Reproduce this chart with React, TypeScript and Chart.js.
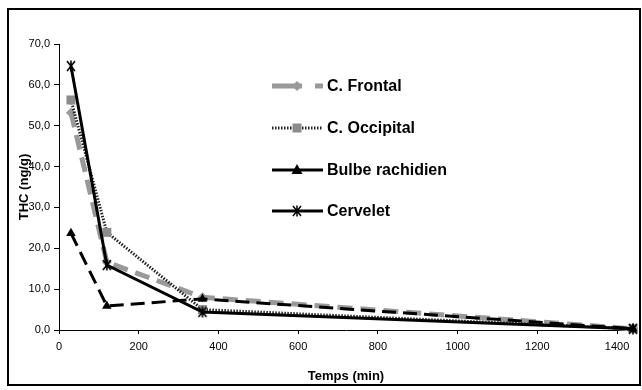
import React, { useEffect, useRef } from "react";
import { Chart, registerables } from "chart.js";

Chart.register(...registerables);

const timesMin = [30, 120, 360, 1440];
const seriesNames = ["C. Frontal", "C. Occipital", "Bulbe rachidien", "Cervelet"];
const frontal = [53.2, 16.6, 8.0, 0.3];
const occipital = [56.3, 23.9, 5.0, 0.3];
const bulbe = [23.7, 5.9, 7.6, 0.3];
const cervelet = [64.6, 15.9, 4.4, 0.3];
const xTickValues = [0, 200, 400, 600, 800, 1000, 1200, 1400];
const yTickValues = [0, 10, 20, 30, 40, 50, 60, 70];

const FONT = "'Liberation Sans', Arial, sans-serif";

const toPts = (vals: number[]) => vals.map((v, i) => ({ x: timesMin[i], y: v }));

function makeAsterisk(): HTMLCanvasElement {
  const c = document.createElement("canvas");
  c.width = 12;
  c.height = 12;
  const g = c.getContext("2d")!;
  g.strokeStyle = "#000";
  g.lineWidth = 1.6;
  g.beginPath();
  g.moveTo(2, 1); g.lineTo(10, 11);
  g.moveTo(10, 1); g.lineTo(2, 11);
  g.moveTo(6, 0.5); g.lineTo(6, 11.5);
  g.stroke();
  return c;
}

const legendPlugin = {
  id: "insideLegend",
  afterDraw(chart: any) {
    const ctx = chart.ctx as CanvasRenderingContext2D;
    const rows = [86, 128, 170, 211];
    const x1 = 272, x2 = 323, mx = 297, tx = 327;
    ctx.save();
    rows.forEach((y, i) => {
      ctx.setLineDash([]);
      if (i === 0) {
        ctx.strokeStyle = "#999999";
        ctx.lineWidth = 5;
        ctx.beginPath();
        ctx.moveTo(x1, y); ctx.lineTo(302, y);
        ctx.moveTo(315, y); ctx.lineTo(x2, y);
        ctx.stroke();
        ctx.fillStyle = "#999999";
        ctx.beginPath();
        ctx.moveTo(mx, y - 5); ctx.lineTo(mx + 5, y); ctx.lineTo(mx, y + 5); ctx.lineTo(mx - 5, y);
        ctx.closePath(); ctx.fill();
      } else if (i === 1) {
        ctx.strokeStyle = "#222";
        ctx.lineWidth = 3;
        ctx.setLineDash([1.5, 1.5]);
        ctx.beginPath(); ctx.moveTo(x1, y); ctx.lineTo(x2, y); ctx.stroke();
        ctx.setLineDash([]);
        ctx.fillStyle = "#8c8c8c";
        ctx.fillRect(mx - 4.5, y - 4.5, 9, 9);
      } else if (i === 2) {
        ctx.strokeStyle = "#000";
        ctx.lineWidth = 3;
        ctx.beginPath(); ctx.moveTo(x1, y); ctx.lineTo(x2, y); ctx.stroke();
        ctx.fillStyle = "#000";
        ctx.beginPath();
        ctx.moveTo(mx, y - 6); ctx.lineTo(mx + 5.5, y + 4); ctx.lineTo(mx - 5.5, y + 4);
        ctx.closePath(); ctx.fill();
      } else {
        ctx.strokeStyle = "#000";
        ctx.lineWidth = 3;
        ctx.beginPath(); ctx.moveTo(x1, y); ctx.lineTo(x2, y); ctx.stroke();
        ctx.lineWidth = 1.5;
        ctx.beginPath();
        ctx.moveTo(mx - 4, y - 5); ctx.lineTo(mx + 4, y + 5);
        ctx.moveTo(mx + 4, y - 5); ctx.lineTo(mx - 4, y + 5);
        ctx.moveTo(mx, y - 5.5); ctx.lineTo(mx, y + 5.5);
        ctx.stroke();
      }
      ctx.fillStyle = "#000";
      ctx.font = `bold 16px ${FONT}`;
      ctx.textBaseline = "middle";
      ctx.textAlign = "left";
      ctx.fillText(seriesNames[i], tx, y + 1);
    });
    ctx.restore();
  },
};

export default function App() {
  const canvasRef = useRef<HTMLCanvasElement | null>(null);

  useEffect(() => {
    const canvas = canvasRef.current;
    if (!canvas) return;
    const asterisk = makeAsterisk();
    const chart = new Chart(canvas, {
      type: "line",
      data: {
        datasets: [
          {
            label: seriesNames[3],
            data: toPts(cervelet),
            borderColor: "#000",
            borderWidth: 3,
            pointStyle: asterisk,
            pointRadius: 6,
            order: 0,
            clip: false,
          },
          {
            label: seriesNames[2],
            data: toPts(bulbe),
            borderColor: "#000",
            borderWidth: 3,
            borderDash: [14, 7],
            pointStyle: "triangle",
            pointRadius: 5.5,
            pointBorderWidth: 0,
            pointBackgroundColor: "#000",
            order: 1,
            clip: false,
          },
          {
            label: seriesNames[1],
            data: toPts(occipital),
            borderColor: "#222",
            borderWidth: 3,
            borderDash: [1.5, 1.5],
            pointStyle: "rect",
            pointRadius: 6.4,
            pointBorderWidth: 0,
            pointBackgroundColor: "#8c8c8c",
            order: 2,
            clip: false,
          },
          {
            label: seriesNames[0],
            data: toPts(frontal),
            borderColor: "#999999",
            borderWidth: 5,
            borderDash: [15, 8],
            pointStyle: "rectRot",
            pointRadius: 5,
            pointBorderWidth: 0,
            pointBackgroundColor: "#999999",
            order: 3,
            clip: false,
          },
        ],
      },
      options: {
        responsive: false,
        animation: false,
        devicePixelRatio: 1,
        layout: { padding: { top: 44, right: 5, left: 0, bottom: 0 } },
        plugins: { legend: { display: false }, tooltip: { enabled: false } },
        elements: { line: { tension: 0 } },
        scales: {
          x: {
            type: "linear",
            min: 0,
            max: 1440,
            afterBuildTicks: (scale: any) => {
              scale.ticks = xTickValues.map((v) => ({ value: v }));
            },
            afterFit: (scale: any) => {
              scale.height = 60;
            },
            ticks: {
              color: "#000",
              font: { family: FONT, size: 11 },
              padding: 6,
              maxRotation: 0,
              callback: (v: any) => String(v),
            },
            grid: {
              display: true,
              drawOnChartArea: false,
              drawTicks: true,
              tickLength: 4,
              color: "#000",
            },
            border: { display: true, color: "#000", width: 1 },
            title: {
              display: true,
              text: "Temps (min)",
              color: "#000",
              font: { family: FONT, size: 13, weight: "bold" },
              padding: { top: 0, bottom: 6 },
            },
          },
          y: {
            type: "linear",
            min: 0,
            max: 70,
            afterBuildTicks: (scale: any) => {
              scale.ticks = yTickValues.map((v) => ({ value: v }));
            },
            afterFit: (scale: any) => {
              scale.width = 59;
            },
            ticks: {
              color: "#000",
              font: { family: FONT, size: 11 },
              padding: 4,
              callback: (v: any) => Number(v).toFixed(1).replace(".", ","),
            },
            grid: {
              display: true,
              drawOnChartArea: false,
              drawTicks: true,
              tickLength: 5,
              color: "#000",
            },
            border: { display: true, color: "#000", width: 1 },
            title: {
              display: true,
              text: "THC (ng/g)",
              color: "#000",
              font: { family: FONT, size: 13, weight: "bold" },
              padding: { top: 17, bottom: 0 },
            },
          },
        },
      },
      plugins: [legendPlugin],
    } as any);
    return () => chart.destroy();
  }, []);

  return (
    <div style={{ position: "fixed", left: 0, top: 0, width: 642, height: 390, background: "#fff" }}>
      <canvas ref={canvasRef} width={642} height={390} style={{ display: "block" }} />
      <div
        style={{
          position: "absolute",
          left: 7,
          top: 8,
          width: 634,
          height: 378,
          border: "2px solid #000",
          boxSizing: "border-box",
          pointerEvents: "none",
        }}
      />
    </div>
  );
}
